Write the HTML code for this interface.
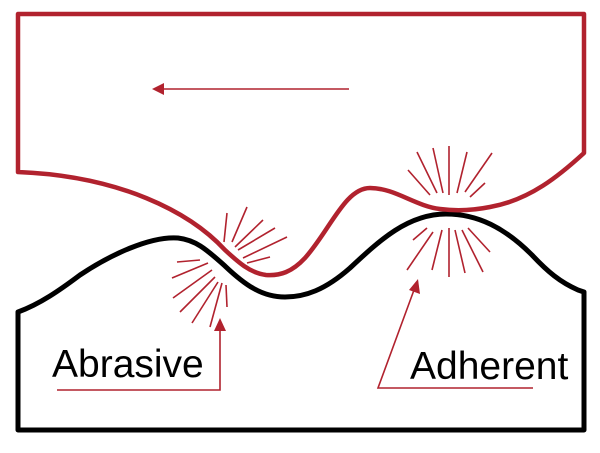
<!DOCTYPE html>
<html><head><meta charset="utf-8"><style>
html,body{margin:0;padding:0;background:#fff;}
svg{display:block;}
text{font-family:"Liberation Sans",sans-serif;font-size:39px;fill:#000;}
</style></head><body>
<svg width="600" height="453" viewBox="0 0 600 453" xmlns="http://www.w3.org/2000/svg">
<g fill="none" stroke-linejoin="round" stroke-linecap="round">
<path d="M18,312 L18,430 L584,430 L584,292 L578,290 C560,282 548,272 532,255 C505,228 478,214 446,214 C408,214 380,240 350,268 C325,290 305,297 285,297 C262,297 245,285 225,266 C205,248 195,240 178,238 C150,236 110,255 80,275 C60,290 40,304 18,312 Z" stroke="#000" stroke-width="5"/>
<path d="M18,172 L18,14 L584,14 L584,153 C560,175 530,200 490,207 C470,211 455,211 440,209 C415,206 395,188 370,188 C345,188 330,230 305,258 C292,272 280,276 266,275 C250,273 238,262 225,250 C190,212 120,176 18,172 Z" stroke="#b1222e" stroke-width="4.5"/>
</g>
<g stroke="#b1222e" stroke-width="1.6" fill="none">
<line x1="349" y1="89" x2="162" y2="89"/>
<line x1="408" y1="170" x2="430" y2="195"/>
<line x1="417" y1="152" x2="437" y2="193"/>
<line x1="433" y1="148" x2="443" y2="193"/>
<line x1="449" y1="146" x2="449" y2="195"/>
<line x1="467" y1="152" x2="457" y2="193"/>
<line x1="492" y1="153" x2="465" y2="192"/>
<line x1="485" y1="183" x2="470" y2="197"/>
<line x1="427" y1="228" x2="413" y2="240"/>
<line x1="433" y1="232" x2="407" y2="270"/>
<line x1="442" y1="230" x2="432" y2="270"/>
<line x1="449" y1="228" x2="449" y2="277"/>
<line x1="455" y1="230" x2="465" y2="273"/>
<line x1="462" y1="230" x2="483" y2="272"/>
<line x1="468" y1="228" x2="490" y2="252"/>
<line x1="227" y1="213" x2="224" y2="242"/>
<line x1="247" y1="207" x2="232" y2="242"/>
<line x1="263" y1="220" x2="235" y2="247"/>
<line x1="275" y1="228" x2="238" y2="250"/>
<line x1="287" y1="237" x2="243" y2="258"/>
<line x1="270" y1="257" x2="247" y2="263"/>
<line x1="200" y1="260" x2="177" y2="262"/>
<line x1="208" y1="263" x2="172" y2="278"/>
<line x1="212" y1="270" x2="173" y2="298"/>
<line x1="215" y1="277" x2="180" y2="312"/>
<line x1="218" y1="282" x2="192" y2="323"/>
<line x1="222" y1="283" x2="210" y2="327"/>
<line x1="226" y1="285" x2="227" y2="307"/>
<polyline points="57,390 220,390 220,328"/>
<polyline points="533,388 378,388 414,290"/>
</g>
<g fill="#b1222e">
<polygon points="152,89 164,83 164,95"/>
<polygon points="220,318 214,331 226,331"/>
<polygon points="418,279 409,290 420,294"/>
</g>
<text x="52" y="377">Abrasive</text>
<text x="410" y="379">Adherent</text>
</svg>
</body></html>
